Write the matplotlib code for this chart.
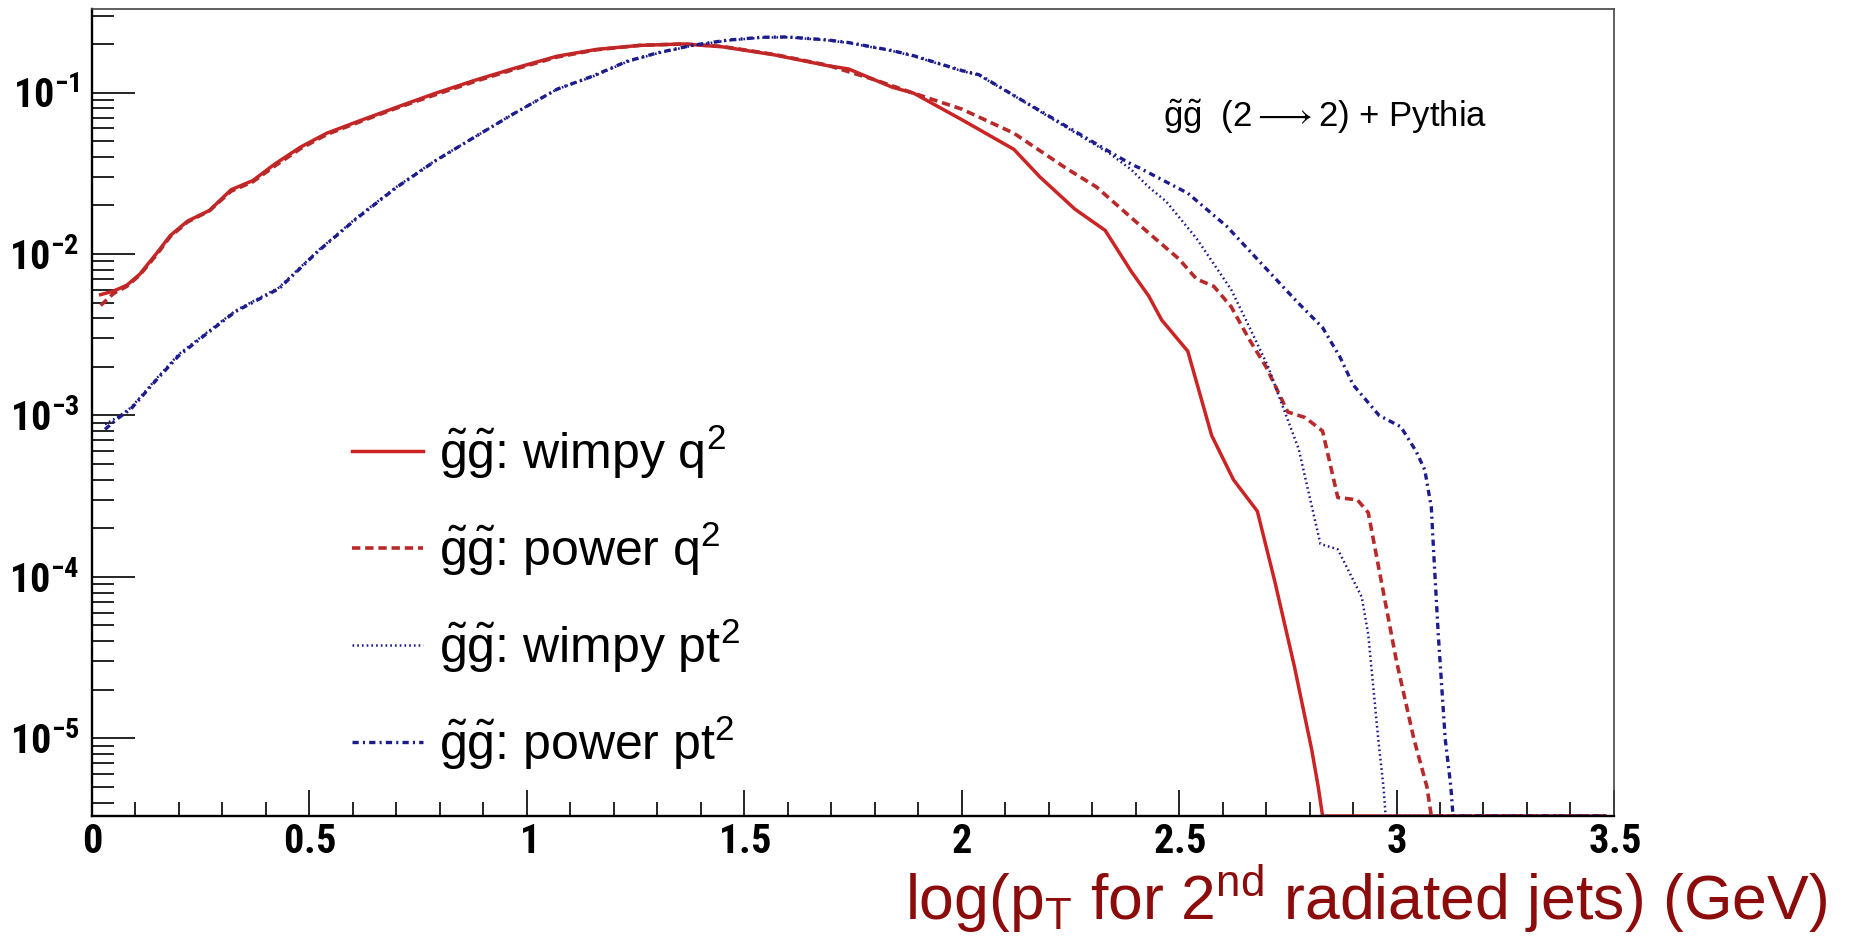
import numpy as np
import matplotlib
matplotlib.use("Agg")
import matplotlib.pyplot as plt
from matplotlib.ticker import MultipleLocator, LogLocator, FuncFormatter, NullFormatter

plt.rcParams['font.family'] = ['Liberation Sans', 'DejaVu Sans']
plt.rcParams['mathtext.fontset'] = 'custom'
plt.rcParams['mathtext.rm'] = 'Liberation Sans'
plt.rcParams['mathtext.it'] = 'Liberation Sans:italic'
plt.rcParams['mathtext.bf'] = 'Roboto Condensed:bold'   # ROOT-like narrow bold tick labels
plt.rcParams['mathtext.fallback'] = 'stixsans'
plt.rcParams['lines.scale_dashes'] = False

# --- values (0 = empty bin, drawn on the frame bottom) ---
x_wimpy_q2 = [0.02, 0.05, 0.08, 0.11, 0.15, 0.18, 0.22, 0.27, 0.32, 0.37, 0.42, 0.48,
              0.54, 0.61, 0.70, 0.79, 0.88, 0.97, 1.07, 1.16, 1.26, 1.36, 1.45, 1.57,
              1.69, 1.74, 1.84, 1.89, 2.00, 2.12, 2.18, 2.26, 2.33, 2.39, 2.43, 2.46,
              2.52, 2.575, 2.625, 2.68, 2.72, 2.765, 2.805, 2.82, 2.83, 3.48]
y_wimpy_q2 = [5.6e-3, 5.9e-3, 6.4e-3, 7.5e-3, 1.02e-2, 1.3e-2, 1.6e-2, 1.86e-2, 2.5e-2,
              2.85e-2, 3.6e-2, 4.6e-2, 5.6e-2, 6.6e-2, 8.1e-2, 9.9e-2, 0.119, 0.141,
              0.168, 0.185, 0.196, 0.2, 0.192, 0.171, 0.147, 0.140, 0.108, 0.099, 0.068,
              0.0445, 0.030, 0.019, 0.014, 7.8e-3, 5.5e-3, 3.9e-3, 2.5e-3, 7.5e-4,
              4.0e-4, 2.55e-4, 9.4e-5, 2.8e-5, 8.5e-6, 5e-6, 0, 0]

x_power_q2 = [0.02, 0.05, 0.08, 0.11, 0.15, 0.18, 0.22, 0.27, 0.32, 0.37, 0.42, 0.48,
              0.54, 0.61, 0.70, 0.79, 0.88, 0.97, 1.07, 1.16, 1.26, 1.36, 1.45, 1.57,
              1.69, 1.80, 1.89, 2.00, 2.12, 2.24, 2.31, 2.43, 2.50, 2.54, 2.58, 2.62,
              2.66, 2.70, 2.75, 2.79, 2.83, 2.865, 2.91, 2.935, 2.965, 3.00, 3.04, 3.07,
              3.08, 3.48]
y_power_q2 = [4.8e-3, 5.7e-3, 6.3e-3, 7.4e-3, 1.0e-2, 1.28e-2, 1.58e-2, 1.85e-2, 2.45e-2,
              2.8e-2, 3.5e-2, 4.5e-2, 5.5e-2, 6.5e-2, 8.0e-2, 9.7e-2, 0.117, 0.139,
              0.166, 0.184, 0.196, 0.2, 0.193, 0.172, 0.148, 0.120, 0.099, 0.079, 0.056,
              0.034, 0.026, 0.0135, 9.3e-3, 7.0e-3, 6.3e-3, 4.7e-3, 3.0e-3, 2.0e-3,
              1.05e-3, 9.7e-4, 8.0e-4, 3.1e-4, 3.0e-4, 2.5e-4, 9.4e-5, 3.0e-5, 9.9e-6,
              5e-6, 0, 0]

x_wimpy_pt2 = [0.03, 0.06, 0.09, 0.15, 0.20, 0.26, 0.33, 0.43, 0.52, 0.61, 0.70, 0.79,
               0.88, 0.97, 1.07, 1.15, 1.23, 1.30, 1.38, 1.46, 1.54, 1.60, 1.69, 1.74,
               1.84, 1.89, 2.00, 2.04, 2.12, 2.24, 2.34, 2.39, 2.43, 2.47, 2.54, 2.62,
               2.66, 2.705, 2.735, 2.775, 2.825, 2.865, 2.92, 2.935, 2.958, 2.97,
               2.975, 3.48]
y_wimpy_pt2 = [8.8e-4, 9.8e-4, 1.12e-3, 1.71e-3, 2.4e-3, 3.2e-3, 4.45e-3, 6.2e-3,
               1.05e-2, 1.69e-2, 2.6e-2, 3.8e-2, 5.3e-2, 7.4e-2, 0.105, 0.125, 0.155,
               0.175, 0.195, 0.21, 0.219, 0.22, 0.211, 0.203, 0.181, 0.168, 0.136,
               0.128, 0.0957, 0.061, 0.042, 0.0333, 0.026, 0.0212, 0.0125, 6.0e-3,
               3.6e-3, 2.0e-3, 1.2e-3, 6.2e-4, 1.6e-4, 1.48e-4, 7.5e-5, 4.4e-5, 9.9e-6,
               5e-6, 0, 0]

x_power_pt2 = [0.03, 0.06, 0.09, 0.15, 0.20, 0.26, 0.33, 0.43, 0.52, 0.61, 0.70, 0.79,
               0.88, 0.97, 1.07, 1.15, 1.23, 1.30, 1.38, 1.46, 1.54, 1.60, 1.69, 1.74,
               1.84, 1.89, 2.00, 2.04, 2.12, 2.24, 2.34, 2.39, 2.41, 2.52, 2.61, 2.71,
               2.77, 2.83, 2.87, 2.90, 2.96, 3.01, 3.045, 3.065, 3.08, 3.085, 3.096,
               3.112, 3.125, 3.13, 3.48]
y_power_pt2 = [8.2e-4, 9.6e-4, 1.1e-3, 1.68e-3, 2.35e-3, 3.15e-3, 4.4e-3, 6.1e-3,
               1.04e-2, 1.67e-2, 2.58e-2, 3.78e-2, 5.3e-2, 7.4e-2, 0.105, 0.126, 0.156,
               0.176, 0.196, 0.211, 0.22, 0.221, 0.212, 0.204, 0.182, 0.169, 0.137,
               0.129, 0.096, 0.062, 0.043, 0.036, 0.034, 0.0238, 0.0148, 7.6e-3, 5.1e-3,
               3.5e-3, 2.3e-3, 1.55e-3, 1.0e-3, 8.5e-4, 6.0e-4, 4.6e-4, 2.7e-4, 1.5e-4,
               4.4e-5, 9.9e-6, 5e-6, 0, 0]

labels = [r'$\tilde{\mathrm{g}}\tilde{\mathrm{g}}$: wimpy q$^2$',
          r'$\tilde{\mathrm{g}}\tilde{\mathrm{g}}$: power q$^2$',
          r'$\tilde{\mathrm{g}}\tilde{\mathrm{g}}$: wimpy pt$^2$',
          r'$\tilde{\mathrm{g}}\tilde{\mathrm{g}}$: power pt$^2$']

ymin, ymax = 3.3e-6, 0.33


def on_frame(v):
    # empty bins sit on the bottom of the frame, like ROOT draws them
    v = np.asarray(v, dtype=float)
    return np.where(v > 0, v, ymin)


fig = plt.figure(figsize=(18.5, 9.41), dpi=100)
ax = fig.add_axes([0.0497, 0.1328, 0.8227, 0.8578])

red = '#cc2424'
blue = '#1c1c8c'
ax.plot(x_wimpy_q2, on_frame(y_wimpy_q2), color=red, lw=2.5, label=labels[0])
ax.plot(x_power_q2, on_frame(y_power_q2), color='#b82a2a', lw=2.6,
        ls=(0, (6, 3.5)), label=labels[1])
ax.plot(x_wimpy_pt2, on_frame(y_wimpy_pt2), color=blue, lw=1.8,
        ls=(0, (1.2, 2.2)), label=labels[2])
ax.plot(x_power_pt2, on_frame(y_power_pt2), color=blue, lw=2.4,
        ls=(0, (4.5, 3, 1.5, 3)), label=labels[3])

ax.set_yscale('log')
ax.set_ylim(ymin, ymax)
ax.set_xlim(0, 3.5)

ax.xaxis.set_major_locator(MultipleLocator(0.5))
ax.xaxis.set_minor_locator(MultipleLocator(0.1))
ax.xaxis.set_major_formatter(FuncFormatter(lambda v, p: r'$\mathbf{%g}$' % v))
ax.yaxis.set_major_locator(LogLocator(base=10, numticks=12))
ax.yaxis.set_minor_locator(LogLocator(base=10, subs=np.arange(2, 10), numticks=12))
ax.yaxis.set_major_formatter(FuncFormatter(
    lambda v, p: r'$\mathbf{10^{%d}}$' % int(round(np.log10(v)))))
ax.yaxis.set_minor_formatter(NullFormatter())

ax.tick_params(axis='both', which='both', direction='in', top=False, right=False,
               width=1.2, colors='black', labelsize=29)
ax.tick_params(axis='x', which='major', length=19, pad=5)
ax.tick_params(axis='x', which='minor', length=10)
ax.tick_params(axis='y', which='major', length=31, pad=9)
ax.tick_params(axis='y', which='minor', length=16)

for side in ['left', 'bottom']:
    ax.spines[side].set_linewidth(1.7)
for side in ['top', 'right']:
    ax.spines[side].set_linewidth(1.2)
    ax.spines[side].set_color('#444444')

ax.legend(loc='upper left', bbox_to_anchor=(0.19, 0.551), bbox_transform=fig.transFigure,
          frameon=False, fontsize=36, handlelength=1.42, handletextpad=0.33,
          labelspacing=0.78, borderpad=0, borderaxespad=0)

fig.text(0.6286, 0.865,
         r'$\tilde{\mathrm{g}}\tilde{\mathrm{g}}$  (2${\longrightarrow}$2) + Pythia',
         fontsize=25, ha='left', va='baseline')

fig.text(0.9876, 0.0223, r'log(p$_\mathrm{T}$ for 2$^\mathrm{nd}$ radiated jets) (GeV)',
         fontsize=45, color='#8c0c0c', ha='right', va='baseline')

fig.savefig('out.png', dpi=100)
